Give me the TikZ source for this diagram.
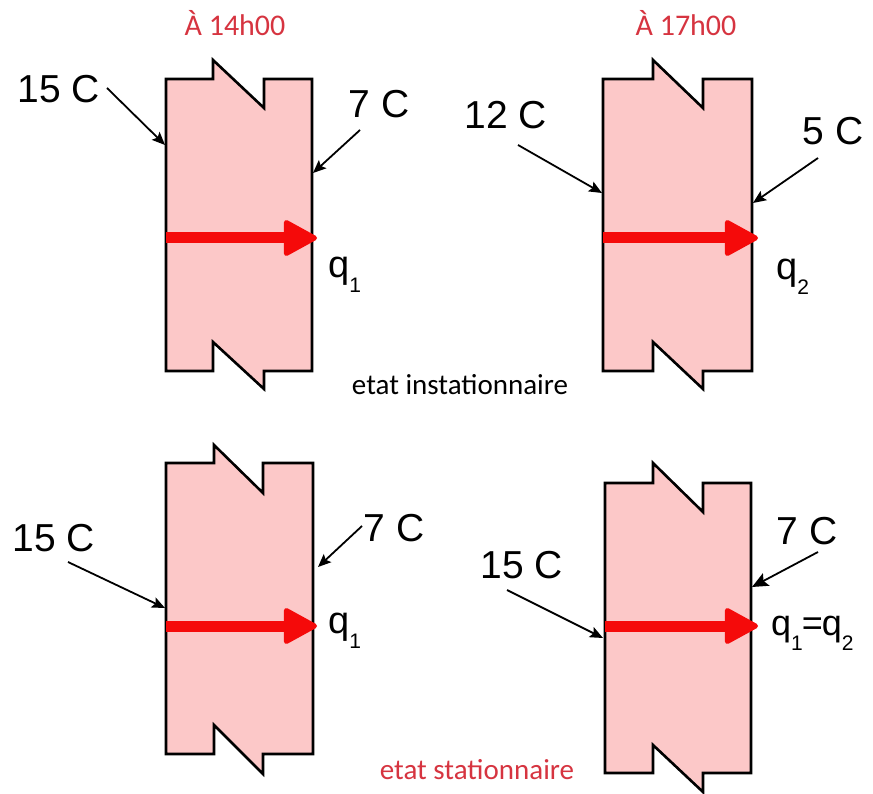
\documentclass[tikz,border=0pt]{standalone}
\usepackage{fontspec}
\setmainfont{Liberation Sans}
\newfontfamily\calfont{Carlito}
\usetikzlibrary{arrows.meta}
\definecolor{wallfill}{RGB}{252,200,200}
\definecolor{titlered}{RGB}{214,52,64}
\definecolor{flowred}{RGB}{245,10,10}
\tikzset{
  wall/.style={fill=wallfill, draw=black, line width=2.6pt, line join=miter},
  temp/.style={inner sep=0pt, font=\fontsize{39}{39}\selectfont},
  qlab/.style={inner sep=0pt, anchor=base west, font=\fontsize{38}{38}\selectfont},
  title/.style={inner sep=0pt, anchor=base, text=titlered, font=\calfont\fontsize{30}{30}\selectfont},
  statetxt/.style={inner sep=0pt, anchor=base, font=\calfont\fontsize{29}{29}\selectfont},
  pointer/.style={draw=black, line width=1.8pt, -{Stealth[length=13pt,width=11pt,inset=2.5pt]}},
  bigpointer/.style={draw=black, line width=1.8pt, -{Stealth[length=16pt,width=14pt,inset=3pt]}},
  flow/.style={draw=flowred, line width=11pt, -{Triangle[length=36pt,width=38pt,round,line width=5pt]}}
}
\newcommand{\sbs}[1]{\raisebox{-15pt}{\fontsize{21}{21}\selectfont #1}}
\begin{document}
\begin{tikzpicture}[x=1pt,y=-1pt]
\useasboundingbox (0,0) rectangle (873,794);

% ---------- Panel 1 ----------
\draw[wall] (166,79) -- (213,79) -- (213,60) -- (264,108) -- (264,79) -- (312,79) -- (312,371) -- (264,371) -- (264,389) -- (213,342) -- (213,371) -- (166,371) -- cycle;
\coordinate (p1in) at (166,238);
\coordinate (p1out) at (317,238);
\draw[flow] (p1in) -- (p1out);
\node[temp] (t1a) at (59,89) {15 C};
\node[temp] (t1b) at (379,104) {7 C};
\coordinate (t1aS) at (107,88);
\coordinate (t1aE) at (165,145);
\coordinate (t1bS) at (360,130);
\coordinate (t1bE) at (313,173);
\draw[pointer] (t1aS) -- (t1aE);
\draw[pointer] (t1bS) -- (t1bE);
\node[qlab] (q1a) at (328,278) {q\sbs{1}};
\node[title] (h1) at (235,36) {À 14h00};

% ---------- Panel 2 ----------
\draw[wall] (603,79) -- (653,79) -- (653,60) -- (703,108) -- (703,79) -- (752,79) -- (752,371) -- (703,371) -- (703,389) -- (653,342) -- (653,371) -- (603,371) -- cycle;
\coordinate (p2in) at (603,238);
\coordinate (p2out) at (758,238);
\draw[flow] (p2in) -- (p2out);
\node[temp] (t2a) at (506,115) {12 C};
\node[temp] (t2b) at (833,131) {5 C};
\coordinate (t2aS) at (518,145);
\coordinate (t2aE) at (602,193);
\coordinate (t2bS) at (818,158);
\coordinate (t2bE) at (753,203);
\draw[pointer] (t2aS) -- (t2aE);
\draw[pointer] (t2bS) -- (t2bE);
\node[qlab] (q2a) at (776,280) {q\sbs{2}};
\node[title] (h2) at (686,36) {À 17h00};

\node[statetxt] (s1) at (460,394) {etat instationnaire};

% ---------- Panel 3 ----------
\draw[wall] (166,463) -- (214,463) -- (214,445) -- (263,493) -- (263,463) -- (313,463) -- (313,754) -- (263,754) -- (263,774) -- (214,725) -- (214,754) -- (166,754) -- cycle;
\coordinate (p3in) at (166,626);
\coordinate (p3out) at (317,626);
\draw[flow] (p3in) -- (p3out);
\node[temp] (t3a) at (54,538) {15 C};
\node[temp] (t3b) at (394,528) {7 C};
\coordinate (t3aS) at (68,562);
\coordinate (t3aE) at (165,608);
\coordinate (t3bS) at (362,526);
\coordinate (t3bE) at (318,567);
\draw[pointer] (t3aS) -- (t3aE);
\draw[pointer] (t3bS) -- (t3bE);
\node[qlab] (q3a) at (328,633) {q\sbs{1}};

% ---------- Panel 4 ----------
\draw[wall] (605,483) -- (653,483) -- (653,463) -- (703,512) -- (703,483) -- (751,483) -- (751,773) -- (703,773) -- (703,792) -- (653,745) -- (653,773) -- (605,773) -- cycle;
\coordinate (p4in) at (605,626);
\coordinate (p4out) at (758,626);
\draw[flow] (p4in) -- (p4out);
\node[temp] (t4a) at (522,565) {15 C};
\node[temp] (t4b) at (807,531) {7 C};
\coordinate (t4aS) at (507,590);
\coordinate (t4aE) at (603,638);
\coordinate (t4bS) at (818,552);
\coordinate (t4bE) at (752,587);
\draw[pointer] (t4aS) -- (t4aE);
\draw[bigpointer] (t4bS) -- (t4bE);
\node[qlab, font=\fontsize{36}{36}\selectfont] (q4a) at (771,635) {q\sbs{1}\kern-1pt=\kern-1pt q\sbs{2}};

\node[statetxt, text=titlered] (s2) at (477,779) {etat stationnaire};
\end{tikzpicture}
\end{document}
